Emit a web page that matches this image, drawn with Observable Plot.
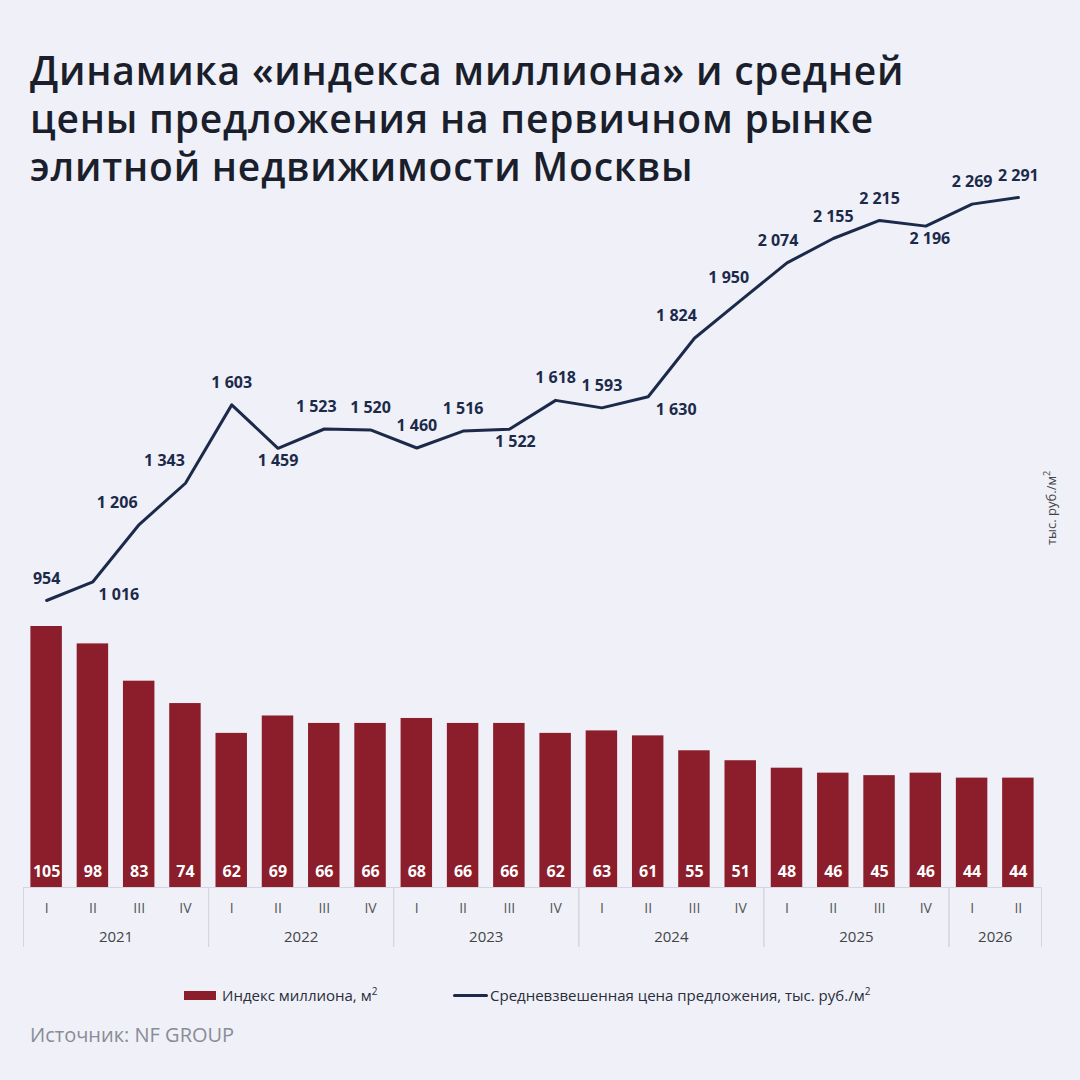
<!DOCTYPE html>
<html><head><meta charset="utf-8">
<script src="https://cdn.jsdelivr.net/npm/d3@7"></script>
<script src="https://cdn.jsdelivr.net/npm/@observablehq/plot@0.6"></script>
<style>
body{margin:0;background:#eff0f8;font-family:"Open Sans",Inter,sans-serif;}
#wrap{position:relative;width:1080px;height:1080px;overflow:hidden;}
#wrap svg{position:absolute;left:0;top:0;background:transparent;}
#title{position:absolute;left:30px;top:46px;font-size:39px;line-height:48px;font-weight:600;color:#1b1e2b;letter-spacing:0.8px;z-index:2;}
#legend{position:absolute;top:984px;left:0;width:1080px;font-size:15px;color:#2a2d3a;z-index:2;}
#source{position:absolute;left:30px;top:1021px;font-size:20px;color:#8a8c96;z-index:2;}
#unit{position:absolute;left:1050px;top:508px;transform:translate(-50%,-50%) rotate(-90deg);font-size:13px;color:#444;white-space:nowrap;z-index:2;}
</style></head><body>
<div id="wrap">
<div id="title">Динамика «индекса миллиона» и средней<br>цены предложения на первичном рынке<br>элитной недвижимости Москвы</div>
<div id="unit">тыс. руб./м<sup style="font-size:9px">2</sup></div>
<div id="legend">
<span style="position:absolute;left:184px;top:7px;width:32px;height:9px;background:#8c1d2b"></span>
<span style="position:absolute;left:222px;top:0">Индекс миллиона, м<sup style="font-size:10px">2</sup></span>
<span style="position:absolute;left:453px;top:10px;width:35px;height:3px;background:#1c2a4a;border-radius:2px"></span>
<span style="position:absolute;left:490px;top:0">Средневзвешенная цена предложения, тыс. руб./м<sup style="font-size:10px">2</sup></span>
</div>
<div id="source">Источник: NF GROUP</div>
</div>
<script>
const quarters = ["I","II","III","IV","I","II","III","IV","I","II","III","IV","I","II","III","IV","I","II","III","IV","I","II"];
const years = [2021,2021,2021,2021,2022,2022,2022,2022,2023,2023,2023,2023,2024,2024,2024,2024,2025,2025,2025,2025,2026,2026];
const millionIndex = [105,98,83,74,62,69,66,66,68,66,66,62,63,61,55,51,48,46,45,46,44,44];
const price = [954,1016,1206,1343,1603,1459,1523,1520,1460,1516,1522,1618,1593,1630,1824,1950,2074,2155,2215,2196,2269,2291];
const labelBelow = [false,true,false,false,false,true,false,false,false,false,true,false,false,true,false,false,false,false,false,true,false,false];
const labelShift = [0,26,-22,-21,0,0,-8,0,0,0,6,0,0,28,-18,-12,-9,0,0,4,0,0];

const data = quarters.map((q,i)=>({i,q,year:years[i],idx:millionIndex[i],price:price[i],below:labelBelow[i],shift:labelShift[i]}));
const yearList = [...new Set(years)];
const yearInfo = yearList.map(y=>{const ii=data.filter(d=>d.year===y).map(d=>d.i);return {year:y,start:Math.min(...ii)-0.5,end:Math.max(...ii)+0.5,mid:(Math.min(...ii)+Math.max(...ii))/2};});
const fmt = v => d3.format(",")(v).replace(/,/g," ");
const style = {fontFamily:"'Open Sans',Inter,sans-serif",background:"transparent",overflow:"visible"};

const xOpt = {type:"linear",domain:[-0.5,21.5],range:[23,1041],axis:null};
const bars = Plot.plot({
  width:1080,height:1080,style,
  x:xOpt,
  y:{domain:[0,105],range:[887,626],axis:null},
  marks:[
    Plot.rectY(data,{x1:d=>d.i-0.34,x2:d=>d.i+0.34,y1:0,y2:"idx",fill:"#8c1d2b"}),
    Plot.text(data,{x:"i",y:0,dy:-16,text:d=>String(d.idx),fill:"white",fontWeight:"bold",fontSize:16}),
    Plot.ruleY([0],{x1:-0.5,x2:21.5,stroke:"#d4d5de"}),
    Plot.ruleX(yearInfo.flatMap(d=>[d.start,d.end]),{y1:0,y2:0,stroke:"#d4d5de",insetBottom:-60}),
    Plot.text(data,{x:"i",y:0,dy:21,text:"q",fill:"#555",fontSize:14}),
    Plot.text(yearInfo,{x:"mid",y:0,dy:50,text:d=>String(d.year),fill:"#444",fontSize:15})
  ]
});
const line = Plot.plot({
  width:1080,height:1080,style,
  x:xOpt,
  y:{domain:[954,2291],range:[600,197],axis:null},
  marks:[
    Plot.line(data,{x:"i",y:"price",stroke:"#1c2a4a",strokeWidth:3}),
    Plot.text(data.filter(d=>!d.below),{x:d=>d.i+d.shift/46.3,y:"price",text:d=>fmt(d.price),fill:"#1c2a4a",fontWeight:"bold",fontSize:16,dy:-22}),
    Plot.text(data.filter(d=>d.below),{x:d=>d.i+d.shift/46.3,y:"price",text:d=>fmt(d.price),fill:"#1c2a4a",fontWeight:"bold",fontSize:16,dy:13})
  ]
});
document.getElementById("wrap").append(bars,line);
</script>
</body></html>
